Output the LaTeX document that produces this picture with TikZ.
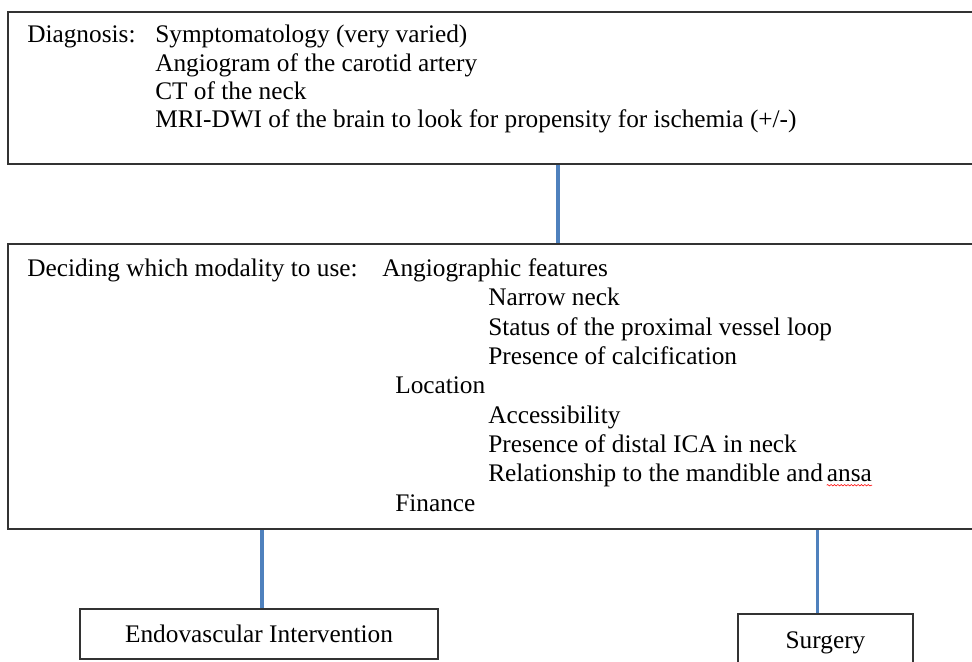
\documentclass[tikz,border=0pt]{standalone}
\usepackage{fontspec}
\setmainfont{Liberation Serif}
\usetikzlibrary{positioning, decorations.pathmorphing}
\definecolor{linkblue}{RGB}{79,129,189}

\begin{document}
\begin{tikzpicture}[
        x=0.025cm, y=-0.025cm,
        box/.style={rectangle, draw=black!80, line width=1pt, font=\fontsize{18}{21}\selectfont},
        txt/.style={anchor=base west, inner sep=0pt, font=\fontsize{18}{21}\selectfont},
        link/.style={draw=linkblue, line width=2.2pt},
        spell/.style={draw=red, line width=0.4pt, decorate, decoration={snake, amplitude=0.5pt, segment length=2.4pt}},
        every node/.style={align=left}
    ]
    \clip (0,0) rectangle (972,662);

    % boxes, the two big ones run past the right edge
    \node[box, minimum width=24.425cm, minimum height=3.8cm] (diag) at (496.5,88) {};
    \node[box, minimum width=24.425cm, minimum height=7.125cm] (modal) at (496.5,386.5) {};
    \node[box, minimum width=8.95cm, minimum height=1.25cm] (endo) at (259,634) {Endovascular Intervention};
    \node[box, minimum width=4.375cm, minimum height=1.45cm] (surg) at (825.5,643) {Surgery};

    % diagnosis text
    \node[txt] (diaglabel) at (27,43) {Diagnosis:};
    \node[txt] (symp) at (155,43) {Symptomatology (very varied)};
    \node[txt] (angio) at (155,72) {Angiogram of the carotid artery};
    \node[txt] (ct) at (155,100) {CT of the neck};
    \node[txt] (mri) at (155,128) {MRI-DWI of the brain to look for propensity for ischemia (+/-)};

    % modality text
    \node[txt] (decide) at (27,277) {Deciding which modality to use:};
    \node[txt] (feat) at (382,277) {Angiographic features};
    \node[txt] (narrow) at (488,306) {Narrow neck};
    \node[txt] (status) at (488,335) {Status of the proximal vessel loop};
    \node[txt] (calc) at (488,364) {Presence of calcification};
    \node[txt] (loc) at (395,393) {Location};
    \node[txt] (access) at (488,423) {Accessibility};
    \node[txt] (distal) at (488,452) {Presence of distal ICA in neck};
    \node[txt] (rel) at (488,481) {Relationship to the mandible and};
    \node[txt, xshift=0.25em] (ansa) at (rel.base east) {ansa};
    \node[txt] (fin) at (395,511) {Finance};

    \draw[spell] ([yshift=-3pt]ansa.base west) -- ([yshift=-3pt]ansa.base east);

    % connectors
    \draw[link] ([xshift=1.5375cm]diag.south) -- ([xshift=1.5375cm]modal.north);
    \draw[link] ([xshift=0.075cm]endo.north) -- ([xshift=0.075cm]endo.north |- modal.south);
    \draw[link] ([xshift=-0.21cm]surg.north) -- ([xshift=-0.21cm]surg.north |- modal.south);

\end{tikzpicture}
\end{document}
